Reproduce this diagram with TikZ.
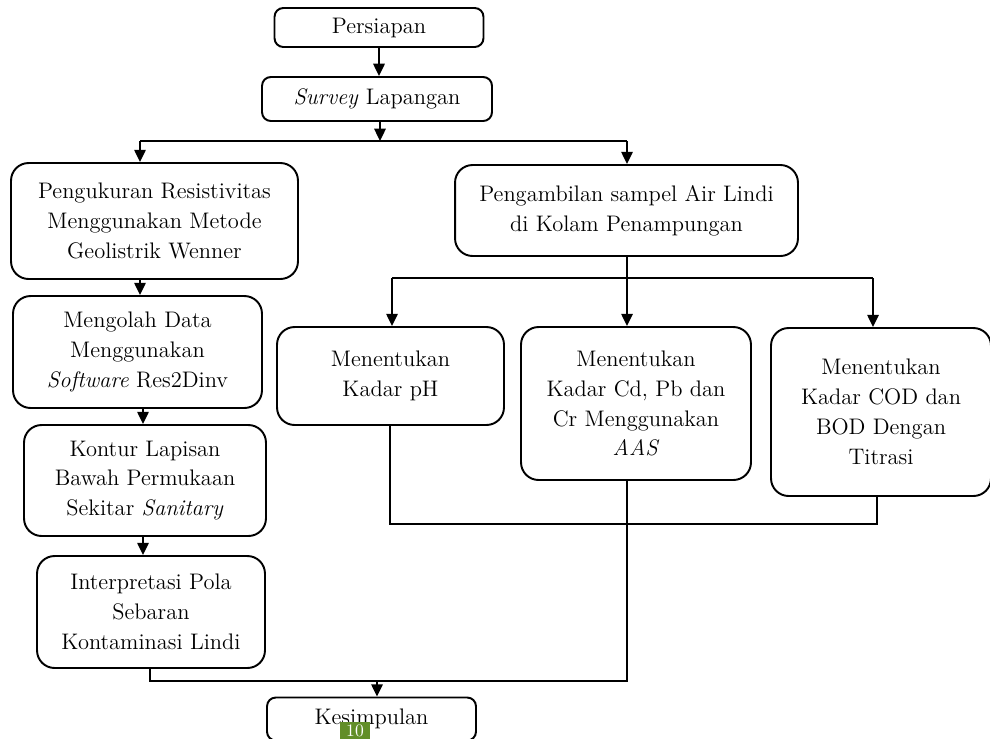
\documentclass[tikz,border=0pt]{standalone}
\usetikzlibrary{arrows.meta, positioning}
\definecolor{pagegreen}{RGB}{98,142,40}

\begin{document}
\begin{tikzpicture}[x=0.02cm, y=-0.02cm,
  fbox/.style={draw, line width=1.1pt, rounded corners=10pt, align=center, font=\fontsize{12.8}{17}\selectfont, inner sep=2pt},
  sbox/.style={fbox, rounded corners=5pt},
  arr/.style={line width=1.1pt, -{Triangle[width=6.5pt,length=7pt]}},
  ln/.style={line width=1.1pt}
]
  \useasboundingbox (0,0) rectangle (990,738);

  \node[sbox, minimum width=4.18cm, minimum height=0.78cm] (prep) at (379,27.5) {Persiapan};
  \node[sbox, minimum width=4.6cm, minimum height=0.88cm] (survey) at (377,99) {\textit{Survey} Lapangan};
  \node[fbox, minimum width=5.74cm, minimum height=2.32cm] (ukur) at (154.5,221) {Pengukuran Resistivitas\\Menggunakan Metode\\Geolistrik Wenner};
  \node[fbox, minimum width=6.86cm, minimum height=1.82cm] (ambil) at (626.5,210.5) {Pengambilan sampel Air Lindi\\di Kolam Penampungan};
  \node[fbox, minimum width=4.98cm, minimum height=2.24cm] (olah) at (137.5,352) {Mengolah Data\\Menggunakan\\\textit{Software} Res2Dinv};
  \node[fbox, minimum width=4.84cm, minimum height=2.22cm] (kontur) at (145,480.5) {Kontur Lapisan\\Bawah Permukaan\\Sekitar \textit{Sanitary}};
  \node[fbox, minimum width=4.56cm, minimum height=2.24cm] (interp) at (151,612) {Interpretasi Pola\\Sebaran\\Kontaminasi Lindi};
  \node[fbox, minimum width=4.54cm, minimum height=1.96cm] (ph) at (390.5,376) {Menentukan\\Kadar pH};
  \node[fbox, minimum width=4.6cm, minimum height=3.06cm] (aas) at (636,403.5) {Menentukan\\Kadar Cd, Pb dan\\Cr Menggunakan\\\textit{AAS}};
  \node[fbox, minimum width=4.4cm, minimum height=3.36cm] (cod) at (881,412) {Menentukan\\Kadar COD dan\\BOD Dengan\\Titrasi};
  \node[sbox, minimum width=4.18cm, minimum height=0.86cm] (simpul) at (371.5,719) {Kesimpulan};
  \node[fill=pagegreen, text=white, font=\fontsize{10}{11}\selectfont, minimum width=0.6cm, minimum height=0.36cm, inner sep=1pt] (pnum) at (355,731) {10};

  % persiapan -> survey -> dua cabang
  \draw[arr] (prep.south) -- (prep.south |- survey.north);
  \coordinate (s1L) at (140,141);
  \coordinate (s1M) at (380,141);
  \coordinate (s1R) at (627,141);
  \draw[arr] (s1M |- survey.south) -- (s1M);
  \draw[ln] (s1L) -- (s1R);
  \draw[arr] (s1L) -- (s1L |- ukur.north);
  \draw[arr] (s1R) -- (s1R |- ambil.north);

  % kolom kiri
  \coordinate (colL) at (143,0);
  \draw[arr] (s1L |- ukur.south) -- (s1L |- olah.north);
  \draw[arr] (colL |- olah.south) -- (colL |- kontur.north);
  \draw[arr] (colL |- kontur.south) -- (colL |- interp.north);

  % cabang kanan
  \coordinate (s2L) at (392,278);
  \coordinate (s2M) at (627,278);
  \coordinate (s2R) at (873,278);
  \draw[ln] (s2M |- ambil.south) -- (s2M);
  \draw[ln] (s2L) -- (s2R);
  \draw[arr] (s2L) -- (s2L |- ph.north);
  \draw[arr] (s2M) -- (s2M |- aas.north);
  \draw[arr] (s2R) -- (s2R |- cod.north);

  % gabungan ke kesimpulan
  \coordinate (c1L) at (390,524);
  \coordinate (c1R) at (877,524);
  \draw[ln] (c1L |- ph.south) -- (c1L) -- (c1R) -- (c1R |- cod.south);
  \coordinate (c2L) at (150,681);
  \coordinate (c2M) at (377,681);
  \coordinate (c2R) at (627,681);
  \draw[ln] (c2L |- interp.south) -- (c2L) -- (c2R) -- (c2R |- aas.south);
  \draw[arr] (c2M) -- (c2M |- simpul.north);
\end{tikzpicture}
\end{document}
